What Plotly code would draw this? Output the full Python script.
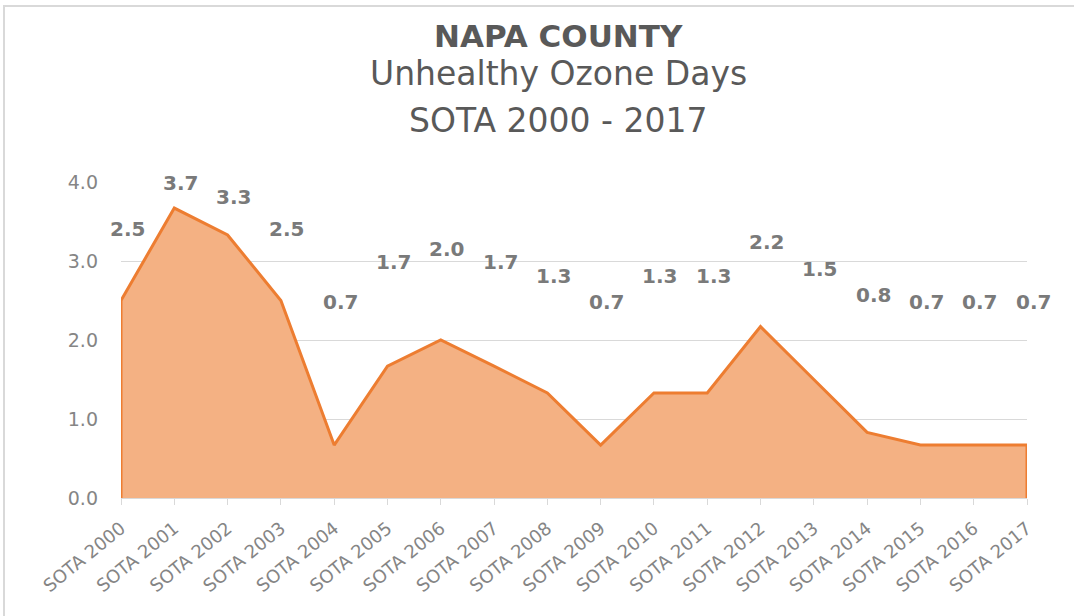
import plotly.graph_objects as go

categories = ["SOTA 2000", "SOTA 2001", "SOTA 2002", "SOTA 2003", "SOTA 2004", "SOTA 2005",
              "SOTA 2006", "SOTA 2007", "SOTA 2008", "SOTA 2009", "SOTA 2010", "SOTA 2011",
              "SOTA 2012", "SOTA 2013", "SOTA 2014", "SOTA 2015", "SOTA 2016", "SOTA 2017"]
values = [2.5, 3.67, 3.33, 2.5, 0.67, 1.67, 2.0, 1.67, 1.33, 0.67, 1.33, 1.33,
          2.17, 1.5, 0.83, 0.67, 0.67, 0.67]
y_ticks = [0, 1, 2, 3, 4]

W, H = 1074, 616
L, R, T, B = 121, 47, 182, 118
pw, ph = W - L - R, H - T - B

idx = list(range(len(categories)))
fig = go.Figure()
fig.add_trace(go.Scatter(
    x=[0] + idx + [idx[-1]], y=[0] + values + [0],
    mode="lines", fill="tozeroy", fillcolor="#F4B183",
    line=dict(color="#ED7D31", width=3), hoverinfo="skip", showlegend=False))


def px_x(p):
    return (p - L) / pw


def px_y(p):
    return (H - B - p) / ph


annotations = []
for i, v in zip(idx, values):
    annotations.append(dict(
        x=i, y=2.15 + v / 2, xref="x", yref="y", text=f"<b>{v:.1f}</b>",
        showarrow=False, xanchor="center", yanchor="middle", xshift=6,
        font=dict(family="DejaVu Sans", size=20, color="#7A7A7A")))

title_font = "DejaVu Sans"
annotations += [
    dict(text="<b>NAPA COUNTY</b>", xref="paper", yref="paper", x=px_x(558), y=px_y(36),
         showarrow=False, xanchor="center", yanchor="middle",
         font=dict(family=title_font, size=31, color="#595959")),
    dict(text="Unhealthy Ozone Days", xref="paper", yref="paper", x=px_x(558), y=px_y(74),
         showarrow=False, xanchor="center", yanchor="middle",
         font=dict(family=title_font, size=33, color="#595959")),
    dict(text="SOTA 2000 - 2017", xref="paper", yref="paper", x=px_x(558), y=px_y(120),
         showarrow=False, xanchor="center", yanchor="middle",
         font=dict(family=title_font, size=33, color="#595959")),
]

fig.update_layout(
    width=W, height=H, margin=dict(l=L, r=R, t=T, b=B),
    paper_bgcolor="white", plot_bgcolor="white",
    xaxis=dict(range=[0, 17], tickvals=idx, ticktext=categories, tickangle=-39,
               showgrid=False, zeroline=False, showline=True, linecolor="#D9D9D9",
               linewidth=1, ticks="outside", ticklen=6, tickcolor="#D9D9D9",
               ticklabelstandoff=6,
               tickfont=dict(family="DejaVu Sans", size=18, color="#858585")),
    yaxis=dict(range=[0, 4], tickvals=y_ticks, tickformat=".1f",
               showgrid=True, gridcolor="#D9D9D9", gridwidth=1, zeroline=False,
               showline=False, ticks="", ticklabelstandoff=22,
               tickfont=dict(family="DejaVu Sans", size=19, color="#858585")),
    shapes=[dict(type="rect", xref="paper", yref="paper",
                 x0=px_x(4), x1=px_x(1100), y0=px_y(6), y1=px_y(650),
                 line=dict(color="#D9D9D9", width=2), fillcolor="rgba(0,0,0,0)", layer="below")],
    annotations=annotations,
)

fig.write_html("out.html", config={"displayModeBar": False},
               post_script="document.body.style.margin='0';document.body.style.overflow='hidden';")
